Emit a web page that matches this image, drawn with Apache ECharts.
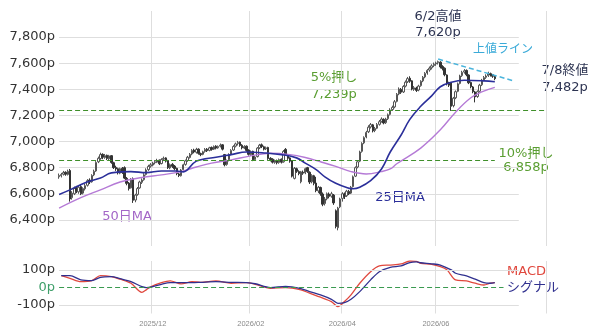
<!DOCTYPE html>
<html>
<head>
<meta charset="utf-8">
<script src="https://cdn.jsdelivr.net/npm/echarts@6/dist/echarts.min.js"></script>
<style>
  html, body { margin: 0; padding: 0; background: #fff; }
  #chart { width: 600px; height: 331px; }
</style>
</head>
<body>
<div id="chart"></div>
<script>
// trading-day axis: weekdays from the first candle, padded past the last one
const startDate = '2025-10-01';
const dayCount = 224;
const labelMonths = ['12', '02', '04', '06'];

// daily candles [open, close, low, high], 2025-10-01 .. 2026-07-08
const candles = [
  [6730, 6740, 6715, 6755], [6738, 6748, 6725, 6760], [6750, 6762, 6740, 6775], [6765, 6750, 6738, 6772],
  [6748, 6772, 6740, 6785], [6778, 6560, 6540, 6790], [6570, 6605, 6555, 6620], [6600, 6640, 6590, 6655],
  [6645, 6620, 6605, 6660], [6615, 6650, 6600, 6665], [6655, 6600, 6590, 6670], [6605, 6640, 6595, 6650],
  [6638, 6662, 6625, 6675], [6665, 6700, 6655, 6712], [6705, 6690, 6675, 6718], [6692, 6740, 6685, 6750],
  [6745, 6772, 6735, 6785], [6775, 6840, 6768, 6850], [6845, 6872, 6835, 6885], [6870, 6900, 6860, 6915],
  [6902, 6880, 6865, 6910], [6878, 6892, 6868, 6905], [6895, 6870, 6858, 6900], [6868, 6890, 6855, 6898],
  [6892, 6840, 6830, 6896], [6838, 6800, 6790, 6845], [6802, 6790, 6775, 6815], [6792, 6760, 6748, 6800],
  [6758, 6792, 6750, 6800], [6795, 6762, 6752, 6805], [6800, 6720, 6712, 6810], [6718, 6680, 6665, 6728],
  [6682, 6640, 6625, 6690], [6645, 6710, 6640, 6720], [6715, 6550, 6530, 6725], [6552, 6590, 6535, 6600],
  [6595, 6640, 6585, 6652], [6645, 6690, 6638, 6700], [6688, 6705, 6675, 6718], [6708, 6745, 6700, 6758],
  [6748, 6782, 6740, 6795], [6785, 6810, 6775, 6822], [6812, 6822, 6800, 6835], [6820, 6835, 6810, 6845],
  [6838, 6845, 6825, 6858], [6842, 6855, 6835, 6868], [6858, 6830, 6820, 6862], [6832, 6862, 6825, 6872],
  [6865, 6872, 6852, 6885], [6875, 6850, 6840, 6880], [6855, 6800, 6790, 6860], [6798, 6822, 6788, 6832],
  [6825, 6810, 6798, 6835], [6812, 6792, 6780, 6820], [6795, 6755, 6742, 6800], [6752, 6740, 6728, 6762],
  [6738, 6782, 6732, 6790], [6785, 6822, 6778, 6830], [6825, 6852, 6815, 6862], [6855, 6880, 6845, 6890],
  [6878, 6902, 6870, 6912], [6905, 6932, 6895, 6942], [6935, 6920, 6910, 6945], [6918, 6940, 6908, 6952],
  [6942, 6910, 6900, 6948], [6908, 6900, 6888, 6915], [6902, 6922, 6895, 6930], [6925, 6940, 6915, 6950],
  [6942, 6930, 6920, 6950], [6932, 6952, 6925, 6960], [6955, 6940, 6930, 6962], [6942, 6962, 6935, 6970],
  [6965, 6950, 6940, 6972], [6952, 6962, 6945, 6970], [6965, 6972, 6955, 6985], [6975, 6942, 6932, 6980],
  [6900, 6822, 6810, 6905], [6825, 6852, 6815, 6862], [6855, 6900, 6848, 6910], [6902, 6932, 6895, 6942],
  [6935, 6962, 6928, 6972], [6965, 6982, 6955, 6992], [6985, 6992, 6970, 7005], [6995, 6970, 6960, 7000],
  [6972, 6952, 6940, 6980], [6950, 6962, 6942, 6972], [6965, 6932, 6922, 6970], [6935, 6902, 6892, 6940],
  [6900, 6922, 6890, 6932], [6925, 6860, 6850, 6930], [6862, 6882, 6852, 6892], [6885, 6950, 6878, 6958],
  [6952, 6972, 6942, 6982], [6975, 6962, 6950, 6985], [6960, 6942, 6932, 6968], [6945, 6952, 6935, 6962],
  [6955, 6870, 6860, 6960], [6872, 6862, 6848, 6880], [6865, 6842, 6832, 6872], [6840, 6852, 6830, 6862],
  [6855, 6838, 6825, 6862], [6840, 6862, 6830, 6870], [6865, 6842, 6832, 6870], [6845, 6925, 6838, 6935],
  [6940, 6900, 6890, 6950], [6898, 6872, 6860, 6905], [6875, 6850, 6838, 6880], [6852, 6735, 6725, 6858],
  [6718, 6795, 6710, 6805], [6792, 6772, 6760, 6800], [6770, 6755, 6742, 6780], [6692, 6768, 6680, 6775],
  [6765, 6758, 6745, 6778], [6760, 6792, 6750, 6800], [6800, 6770, 6760, 6806], [6765, 6690, 6675, 6772],
  [6692, 6740, 6680, 6750], [6738, 6680, 6665, 6745], [6682, 6625, 6612, 6730], [6622, 6650, 6605, 6660],
  [6648, 6600, 6585, 6655], [6598, 6520, 6505, 6610], [6525, 6560, 6510, 6575], [6562, 6600, 6550, 6610],
  [6598, 6580, 6565, 6610], [6582, 6600, 6570, 6615], [6590, 6530, 6515, 6598], [6470, 6350, 6335, 6480],
  [6340, 6490, 6320, 6500], [6500, 6560, 6490, 6570], [6565, 6600, 6540, 6612], [6598, 6580, 6560, 6610],
  [6585, 6620, 6575, 6630], [6618, 6600, 6590, 6630], [6605, 6650, 6598, 6660], [6655, 6730, 6648, 6740],
  [6735, 6800, 6728, 6810], [6805, 6845, 6795, 6858], [6850, 6920, 6842, 6930], [6925, 6985, 6915, 6995],
  [6990, 7030, 6980, 7040], [7035, 7070, 7025, 7082], [7075, 7110, 7065, 7125], [7112, 7130, 7100, 7142],
  [7128, 7082, 7070, 7135], [7085, 7100, 7072, 7112], [7102, 7130, 7095, 7142], [7132, 7152, 7122, 7165],
  [7155, 7172, 7145, 7185], [7170, 7142, 7132, 7178], [7145, 7172, 7135, 7182], [7175, 7205, 7165, 7215],
  [7208, 7242, 7200, 7255], [7245, 7262, 7235, 7275], [7265, 7305, 7255, 7318], [7308, 7362, 7300, 7372],
  [7365, 7402, 7355, 7415], [7400, 7378, 7365, 7410], [7380, 7422, 7372, 7432], [7425, 7455, 7415, 7468],
  [7458, 7482, 7448, 7495], [7485, 7462, 7450, 7500], [7465, 7402, 7392, 7470], [7400, 7412, 7388, 7425],
  [7410, 7392, 7380, 7420], [7395, 7425, 7385, 7435], [7428, 7462, 7420, 7470], [7465, 7492, 7455, 7502],
  [7495, 7522, 7485, 7532], [7525, 7545, 7512, 7555], [7548, 7562, 7535, 7575], [7565, 7580, 7552, 7592],
  [7582, 7592, 7570, 7605], [7595, 7602, 7580, 7612], [7605, 7612, 7590, 7620], [7608, 7572, 7560, 7615],
  [7575, 7560, 7545, 7585], [7562, 7512, 7500, 7568], [7510, 7442, 7430, 7515], [7445, 7432, 7418, 7458],
  [7450, 7270, 7235, 7455], [7275, 7332, 7262, 7342], [7335, 7382, 7325, 7392], [7385, 7442, 7378, 7452],
  [7445, 7502, 7438, 7512], [7505, 7530, 7495, 7542], [7532, 7542, 7520, 7555], [7545, 7512, 7500, 7552],
  [7510, 7450, 7440, 7515], [7452, 7420, 7408, 7460], [7418, 7382, 7370, 7425], [7380, 7342, 7300, 7388],
  [7345, 7382, 7335, 7392], [7385, 7432, 7375, 7442], [7435, 7470, 7425, 7480], [7472, 7490, 7462, 7502],
  [7492, 7502, 7480, 7515], [7505, 7522, 7495, 7535], [7520, 7510, 7498, 7528], [7512, 7500, 7488, 7518],
  [7498, 7482, 7470, 7508]
];

// moving averages
const ma25 = [
  ['2025-10-01', 6595], ['2025-10-08', 6630], ['2025-10-17', 6685], ['2025-10-28', 6720],
  ['2025-11-04', 6760], ['2025-11-17', 6770], ['2025-11-26', 6762], ['2025-12-05', 6775],
  ['2025-12-16', 6775], ['2025-12-19', 6768], ['2025-12-29', 6850], ['2026-01-09', 6880],
  ['2026-01-20', 6900], ['2026-01-29', 6920], ['2026-02-11', 6912], ['2026-02-20', 6900],
  ['2026-03-03', 6875], ['2026-03-09', 6835], ['2026-03-16', 6785], ['2026-03-20', 6730],
  ['2026-03-27', 6680], ['2026-04-03', 6648], ['2026-04-08', 6638], ['2026-04-13', 6650],
  ['2026-04-20', 6700], ['2026-04-27', 6790], ['2026-05-01', 6920], ['2026-05-08', 7050],
  ['2026-05-14', 7170], ['2026-05-21', 7270], ['2026-05-28', 7350], ['2026-06-03', 7420],
  ['2026-06-10', 7455], ['2026-06-18', 7470], ['2026-07-01', 7465], ['2026-07-08', 7458]
];
const ma50 = [
  ['2025-10-01', 6490], ['2025-10-15', 6570], ['2025-10-28', 6630], ['2025-11-10', 6690],
  ['2025-11-24', 6725], ['2025-12-05', 6745], ['2025-12-18', 6770], ['2025-12-29', 6805],
  ['2026-01-07', 6835], ['2026-01-20', 6860], ['2026-02-02', 6890], ['2026-02-13', 6910],
  ['2026-02-26', 6900], ['2026-03-09', 6878], ['2026-03-18', 6845], ['2026-03-27', 6810],
  ['2026-04-07', 6770], ['2026-04-16', 6752], ['2026-04-27', 6770], ['2026-05-01', 6790],
  ['2026-05-06', 6830], ['2026-05-21', 6950], ['2026-06-03', 7090], ['2026-06-12', 7225],
  ['2026-06-23', 7335], ['2026-06-30', 7380], ['2026-07-08', 7415]
];

// resistance line (上値ライン)
const resistance = [['2026-06-02', 7632], ['2026-07-21', 7463]];

// pullback levels from the 6/2 high
const highValue = 7620;
const lastClose = 7482;
const pull5 = 7239;
const pull10 = 6858;

// MACD panel
const macd = [
  ['2025-10-02', 66], ['2025-10-08', 51], ['2025-10-15', 32], ['2025-10-22', 38], ['2025-10-28', 66],
  ['2025-11-04', 61], ['2025-11-10', 46], ['2025-11-17', 23], ['2025-11-24', -29], ['2025-11-26', -15],
  ['2025-11-28', 3], ['2025-12-05', 26], ['2025-12-11', 36], ['2025-12-18', 19], ['2025-12-25', 32],
  ['2025-12-31', 28], ['2026-01-09', 36], ['2026-01-20', 23], ['2026-01-29', 26], ['2026-02-04', 17],
  ['2026-02-13', -6], ['2026-02-24', -2], ['2026-03-05', -15], ['2026-03-11', -34], ['2026-03-18', -57],
  ['2026-03-25', -82], ['2026-03-30', -111], ['2026-04-02', -82], ['2026-04-07', -44], ['2026-04-13', 23],
  ['2026-04-20', 89], ['2026-04-24', 122], ['2026-05-01', 127], ['2026-05-08', 133], ['2026-05-14', 150],
  ['2026-05-19', 148], ['2026-05-21', 137], ['2026-05-28', 131], ['2026-06-03', 118], ['2026-06-08', 100],
  ['2026-06-12', 42], ['2026-06-19', 36], ['2026-06-25', 23], ['2026-07-01', 13], ['2026-07-06', 23],
  ['2026-07-08', 26]
];
const signal = [
  ['2025-10-02', 66], ['2025-10-08', 66], ['2025-10-15', 42], ['2025-10-22', 38], ['2025-10-28', 57],
  ['2025-11-04', 61], ['2025-11-10', 49], ['2025-11-17', 32], ['2025-11-24', 3], ['2025-11-26', -2],
  ['2025-11-28', 0], ['2025-12-05', 17], ['2025-12-11', 26], ['2025-12-18', 26], ['2025-12-25', 26],
  ['2025-12-31', 28], ['2026-01-09', 32], ['2026-01-20', 28], ['2026-01-29', 26], ['2026-02-04', 20],
  ['2026-02-13', -2], ['2026-02-24', 5], ['2026-03-05', -8], ['2026-03-11', -25], ['2026-03-18', -44],
  ['2026-03-25', -69], ['2026-03-30', -92], ['2026-04-02', -88], ['2026-04-07', -69], ['2026-04-13', -25],
  ['2026-04-20', 42], ['2026-04-24', 89], ['2026-05-01', 114], ['2026-05-08', 122], ['2026-05-14', 141],
  ['2026-05-19', 145], ['2026-05-21', 140], ['2026-05-28', 134], ['2026-06-03', 127], ['2026-06-10', 99],
  ['2026-06-12', 80], ['2026-06-19', 65], ['2026-06-25', 46], ['2026-07-01', 26], ['2026-07-06', 23],
  ['2026-07-08', 26]
];

const priceTicks = [6400, 6600, 6800, 7000, 7200, 7400, 7600, 7800];
const macdTicks = [-100, 0, 100];

const dates = [];
for (let d = new Date(startDate + 'T00:00:00Z'); dates.length < dayCount; d.setUTCDate(d.getUTCDate() + 1)) {
  const w = d.getUTCDay();
  if (w !== 0 && w !== 6) dates.push(d.toISOString().slice(0, 10));
}
const gridEnd = '2026-07-23';
const lastDay = '2026-07-08';
const isMonthMark = (i) => i > 0 && dates[i].slice(5, 7) !== dates[i - 1].slice(5, 7) &&
  labelMonths.includes(dates[i].slice(5, 7));

const font = "'DejaVu Sans', 'Noto Sans CJK JP', sans-serif";
const green = '#5a9e32';
const navy = '#2d3452';
const gridColor = '#dedede';
const fmt = (v) => v.toLocaleString('en-US') + 'p';

const hLine = (axisValue, end, style) => [
  { coord: [dates[0], axisValue], lineStyle: style },
  { coord: [end, axisValue] }
];

const note = (text, x, y, color, size, align) => ({
  type: 'text', x: x, y: y, silent: true,
  style: { text: text, fill: color, font: (size || 13) + 'px ' + font,
    textAlign: align || 'center', textVerticalAlign: 'middle' }
});

const chart = echarts.init(document.getElementById('chart'));
chart.setOption({
  animation: false,
  backgroundColor: '#fff',
  textStyle: { fontFamily: font },
  grid: [
    { left: 58, right: 54, top: 11, height: 235 },
    { left: 58, right: 54, top: 261, height: 52.5 }
  ],
  xAxis: [0, 1].map((g) => ({
    type: 'category',
    gridIndex: g,
    data: dates,
    boundaryGap: true,
    axisLine: { show: false },
    axisTick: { show: false },
    splitLine: { show: true, interval: isMonthMark, lineStyle: { color: gridColor, width: 1 } },
    axisLabel: g === 1 ? {
      show: true, interval: isMonthMark, color: '#8a8a8a', fontSize: 7.5,
      fontFamily: "'Liberation Sans', sans-serif", margin: 6,
      formatter: (v) => v.slice(0, 7).replace('-', '/')
    } : { show: false }
  })),
  yAxis: [
    {
      type: 'value', gridIndex: 0, min: 6200, max: 8000, interval: 200,
      splitLine: { show: false }, axisLine: { show: false }, axisTick: { show: false },
      axisLabel: {
        color: '#333', fontSize: 13, margin: 3, showMinLabel: false, showMaxLabel: false,
        formatter: (v) => priceTicks.includes(v) ? fmt(v) : ''
      }
    },
    {
      type: 'value', gridIndex: 1, min: -150, max: 150, interval: 50,
      splitLine: { show: false }, axisLine: { show: false }, axisTick: { show: false },
      axisLabel: {
        fontSize: 13, margin: 3,
        color: (v) => Number(v) === 0 ? '#3f9f6a' : '#333',
        formatter: (v) => macdTicks.includes(v) ? fmt(v) : ''
      }
    }
  ],
  series: [
    {
      type: 'candlestick',
      xAxisIndex: 0, yAxisIndex: 0,
      data: candles,
      barWidth: '90%',
      itemStyle: { color: '#ffffff', color0: '#333333', borderColor: '#555555', borderColor0: '#333333', borderWidth: 1 },
      markLine: {
        silent: true, symbol: ['none', 'none'], z: 1, label: { show: false },
        data: priceTicks.map((t) => hLine(t, gridEnd, { color: gridColor, width: 1, type: 'solid' }))
      }
    },
    {
      name: '50日MA', type: 'line', xAxisIndex: 0, yAxisIndex: 0,
      data: ma50, smooth: 0.4, symbol: 'none',
      lineStyle: { color: '#b57ad6', width: 1.4 }
    },
    {
      name: '25日MA', type: 'line', xAxisIndex: 0, yAxisIndex: 0,
      data: ma25, smooth: 0.4, symbol: 'none',
      lineStyle: { color: '#2b2f9a', width: 1.6 },
      markLine: {
        silent: true, symbol: ['none', 'none'], label: { show: false },
        data: [
          hLine(pull5, dates[dates.length - 1], { color: '#3f8f2a', width: 1.2, type: [5, 3] }),
          hLine(pull10, lastDay, { color: '#3f8f2a', width: 1.2, type: [5, 3] })
        ]
      }
    },
    {
      name: '上値ライン', type: 'line', xAxisIndex: 0, yAxisIndex: 0,
      data: resistance, symbol: 'none',
      lineStyle: { color: '#4ab4dc', width: 1.5, type: [5, 3] }
    },
    {
      name: 'MACD', type: 'line', xAxisIndex: 1, yAxisIndex: 1,
      data: macd, smooth: 0.3, symbol: 'none',
      lineStyle: { color: '#e0483e', width: 1.3 },
      markLine: {
        silent: true, symbol: ['none', 'none'], label: { show: false },
        data: [
          hLine(100, gridEnd, { color: gridColor, width: 1, type: 'solid' }),
          hLine(-100, gridEnd, { color: gridColor, width: 1, type: 'solid' }),
          hLine(0, '2026-07-14', { color: '#3a9a50', width: 1.2, type: [5, 3] })
        ]
      }
    },
    {
      name: 'シグナル', type: 'line', xAxisIndex: 1, yAxisIndex: 1,
      data: signal, smooth: 0.3, symbol: 'none',
      lineStyle: { color: '#30308f', width: 1.3 }
    }
  ],
  graphic: [
    note('6/2高値', 438, 17, navy),
    note(fmt(highValue), 438, 33, navy),
    note('上値ライン', 503, 50, '#3aaad8', 12),
    note('7/8終値', 565, 71, navy),
    note(fmt(lastClose), 565, 88, navy),
    note('5%押し', 334, 78, green),
    note(fmt(pull5), 334, 95, green),
    note('10%押し', 526, 154, green),
    note(fmt(pull10), 526, 168, green),
    note('50日MA', 127, 217, '#a366c7'),
    note('25日MA', 400, 198, '#2b2f9a'),
    note('MACD', 507, 272, '#e0483e', 13, 'left'),
    note('シグナル', 507, 288, '#30308f', 13, 'left')
  ]
});
</script>
</body>
</html>
